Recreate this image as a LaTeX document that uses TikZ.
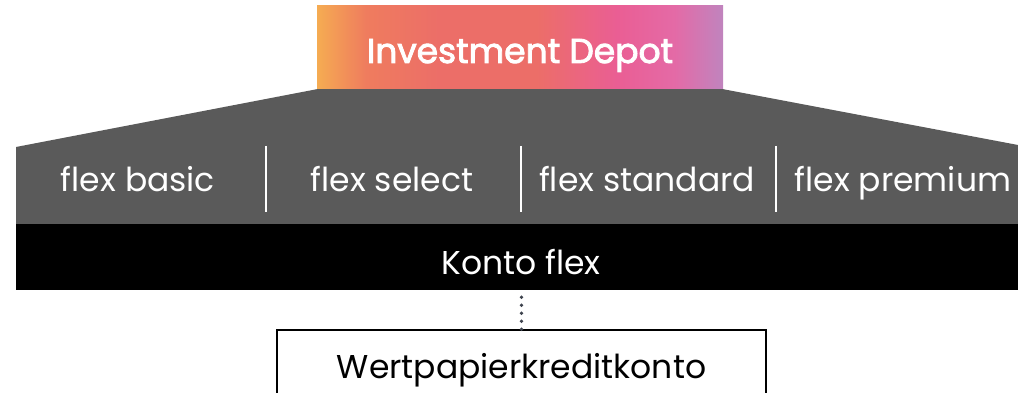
\documentclass[tikz,border=0pt]{standalone}
\usepackage{fontspec}
\setmainfont{Poppins}
\newfontfamily\popmed[FakeBold=2.5]{Poppins}
\definecolor{gbar}{HTML}{5A5A5A}
\definecolor{dotc}{HTML}{3E434E}
\definecolor{gA}{HTML}{F5AC52}
\definecolor{gB}{HTML}{EF7C5E}
\definecolor{gC}{HTML}{EC6E68}
\definecolor{gD}{HTML}{EA5E94}
\definecolor{gE}{HTML}{E46AA6}
\definecolor{gF}{HTML}{C084BE}
\pgfdeclarehorizontalshading{ipgrad}{100bp}{color(0bp)=(gA); color(25bp)=(gA); color(31bp)=(gB); color(40bp)=(gC); color(52bp)=(gC); color(62bp)=(gD); color(69bp)=(gE); color(75bp)=(gF); color(100bp)=(gF)}
\begin{document}
\begin{tikzpicture}[x=1pt,y=1pt,
  lbl/.style={text=white,font=\fontsize{33}{38}\selectfont,inner sep=0pt,anchor=base},
  sep/.style={draw=white,line width=2.6pt},
  dotline/.style={draw=dotc,line width=3.8pt,line cap=round,dash pattern=on 0pt off 8pt}]
\useasboundingbox (0,0) rectangle (1018,393);
% top gradient box
\node[minimum width=406pt,minimum height=83pt,inner sep=0pt,shading=ipgrad] (dep) at (520,345.5) {};
\node[lbl,font=\fontsize{34.5}{38}\selectfont\popmed] (deptxt) at (520,330) {Investment Depot};
% gray trapezoid + band
\coordinate (tl) at (16,246);
\coordinate (tr) at (1018,248);
\coordinate (bl) at (16,169);
\coordinate (br) at (1018,169);
\fill[gbar] (dep.south west) -- (dep.south east) -- (tr) -- (br) -- (bl) -- (tl) -- cycle;
% black bar
\node[fill=black,minimum width=1002pt,minimum height=66pt,inner sep=0pt] (konto) at (517,136) {};
\node[lbl] (kontotxt) at (521,118) {Konto flex};
% columns
\node[lbl] (c1) at (138,201) {flex basic};
\node[lbl] (c2) at (392,201) {flex select};
\node[lbl] (c3) at (647,201) {flex standard};
\node[lbl] (c4) at (903,201) {flex premium};
\coordinate (s1t) at (266,247); \coordinate (s1b) at (266,181);
\coordinate (s2t) at (521,247); \coordinate (s2b) at (521,181);
\coordinate (s3t) at (776,247); \coordinate (s3b) at (776,181);
\draw[sep] (s1t) -- (s1b);
\draw[sep] (s2t) -- (s2b);
\draw[sep] (s3t) -- (s3b);
% bottom box
\draw[line width=1.4pt] (277,-10) -- (277,63) coordinate (wl) -- (766,63) coordinate (wr) -- (766,-10);
\coordinate (wtop) at (521.5,63);
\node[font=\fontsize{33}{38}\selectfont,inner sep=0pt,anchor=base] (wtxt) at (521.5,14) {Wertpapierkreditkonto};
\draw[dotline] (konto.south -| wtop) ++(0,-7) -- (wtop);
\end{tikzpicture}
\end{document}
